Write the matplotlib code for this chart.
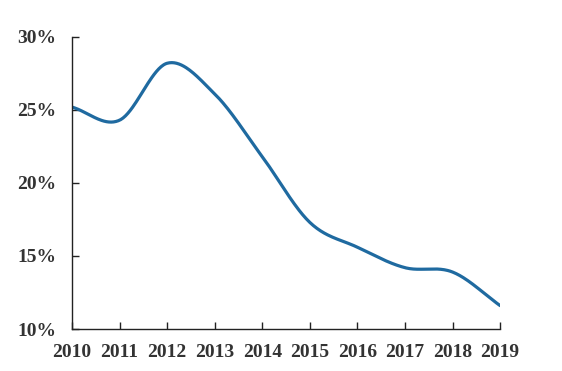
import numpy as np
import matplotlib
matplotlib.use("Agg")
import matplotlib.pyplot as plt
from matplotlib.ticker import FuncFormatter

years = [2010, 2011, 2012, 2013, 2014, 2015, 2016, 2017, 2018, 2019]
values = [25.2, 24.3, 28.2, 26.1, 21.8, 17.3, 15.6, 14.2, 13.9, 11.6]
yticks = [10, 15, 20, 25, 30]

def catmull_rom(x, y, n=40):
    x = np.asarray(x, float); y = np.asarray(y, float)
    px = np.concatenate([[2*x[0]-x[1]], x, [2*x[-1]-x[-2]]])
    py = np.concatenate([[2*y[0]-y[1]], y, [2*y[-1]-y[-2]]])
    xs, ys = [], []
    t = np.linspace(0, 1, n, endpoint=False)
    for i in range(1, len(px)-2):
        p0, p1, p2, p3 = [np.array([px[j], py[j]]) for j in range(i-1, i+3)]
        m1 = (p2 - p0) / 2
        m2 = (p3 - p1) / 2
        h00 = 2*t**3 - 3*t**2 + 1
        h10 = t**3 - 2*t**2 + t
        h01 = -2*t**3 + 3*t**2
        h11 = t**3 - t**2
        pts = np.outer(h00, p1) + np.outer(h10, m1) + np.outer(h01, p2) + np.outer(h11, m2)
        xs.extend(pts[:, 0]); ys.extend(pts[:, 1])
    xs.append(x[-1]); ys.append(y[-1])
    return np.array(xs), np.array(ys)

plt.rcParams['font.family'] = ['Liberation Serif', 'DejaVu Serif']
fig = plt.figure(figsize=(5.62, 3.71), dpi=100)
ax = fig.add_axes([0.128, 0.1132, 0.762, 0.7871])

sx, sy = catmull_rom(years, values)
ax.plot(sx, sy, color='#1f6aa0', lw=2.3, solid_capstyle='round')

ax.set_xlim(years[0], years[-1])
ax.set_ylim(10, 30)
ax.set_xticks(years)
ax.set_yticks(yticks)
ax.yaxis.set_major_formatter(FuncFormatter(lambda v, p: f"{int(v)}%"))
for s in ['top', 'right']:
    ax.spines[s].set_visible(False)
for s in ['left', 'bottom']:
    ax.spines[s].set_color('#222222')
    ax.spines[s].set_linewidth(1.0)
ax.tick_params(axis='both', direction='in', length=5, width=1, color='#222222',
               labelsize=14, labelcolor='#333333')
ax.tick_params(axis='x', pad=11)
ax.tick_params(axis='y', pad=11)
for lab in ax.get_xticklabels() + ax.get_yticklabels():
    lab.set_fontweight('bold')

fig.savefig('out.png', dpi=100)
